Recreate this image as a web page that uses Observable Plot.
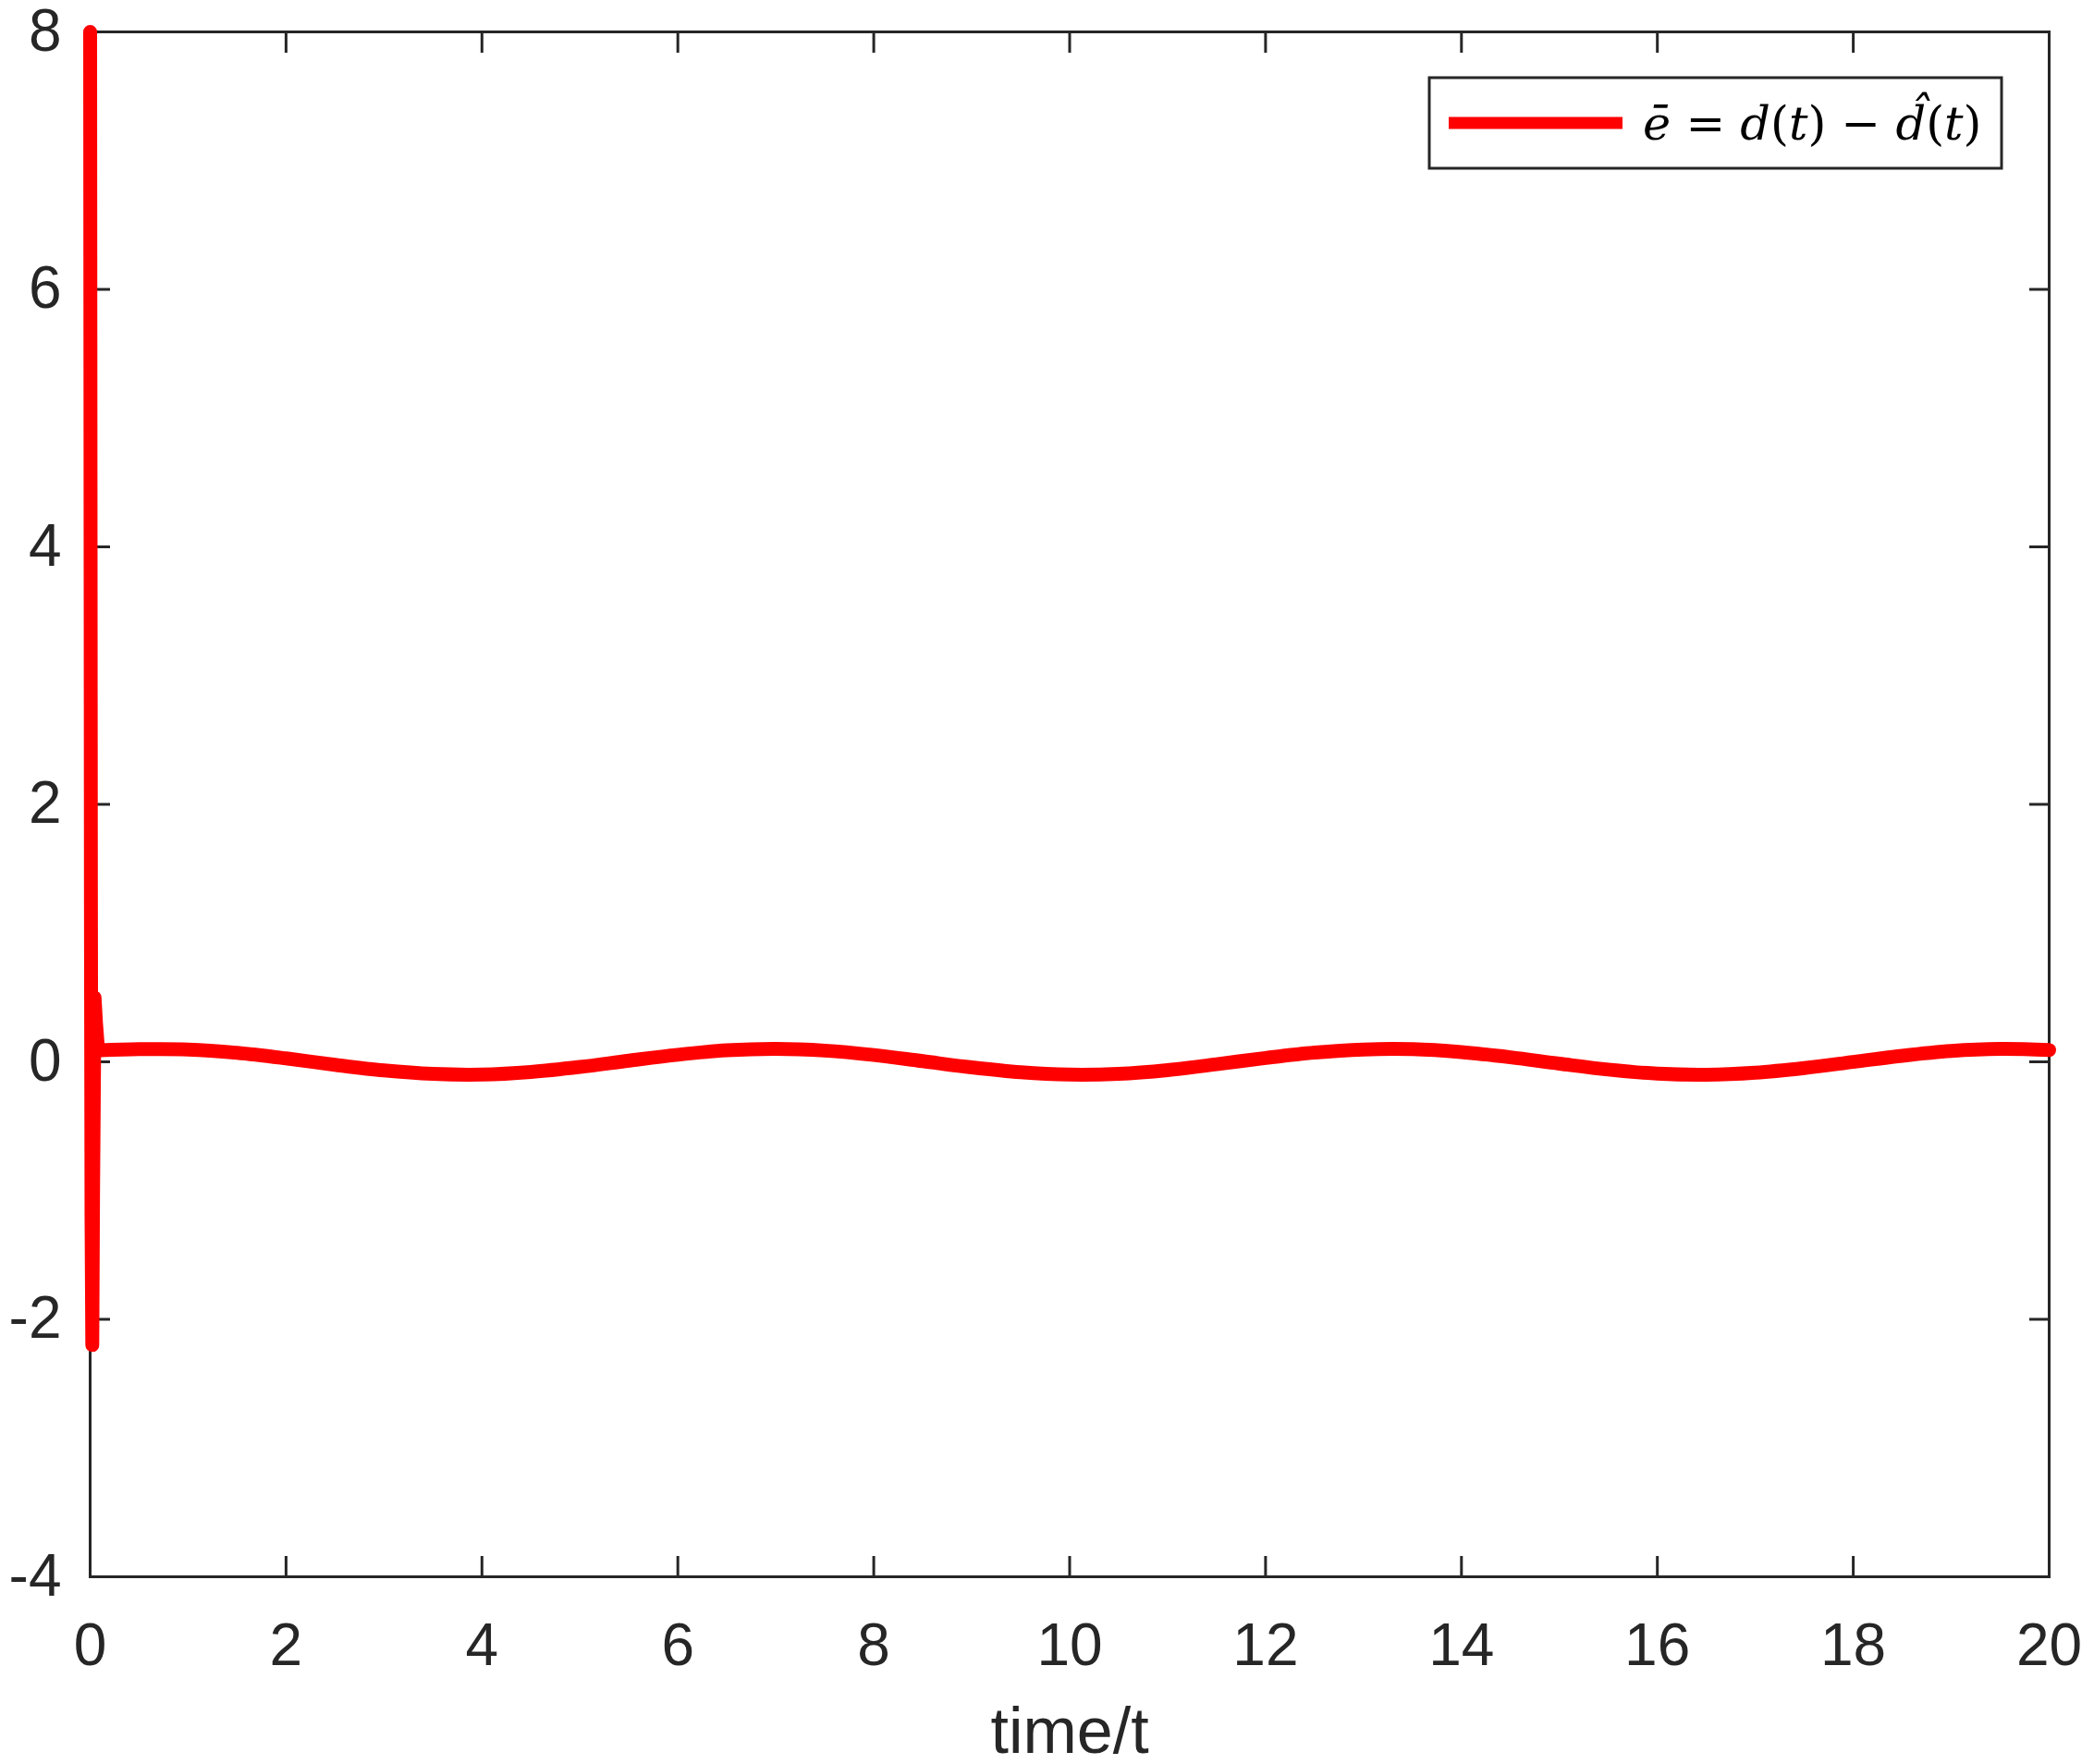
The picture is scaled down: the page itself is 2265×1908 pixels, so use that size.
<!DOCTYPE html>
<html>
<head>
<meta charset="utf-8">
<script src="https://cdn.jsdelivr.net/npm/d3@7"></script>
<script src="https://cdn.jsdelivr.net/npm/@observablehq/plot@0.6"></script>
<style>
  body { margin: 0; background: #fff; }
</style>
</head>
<body>
<div id="chart"></div>
<script>
// transitorio inicial (t, error)
const tTransient = [0, 0.004, 0.008, 0.014, 0.022, 0.03, 0.045, 0.06, 0.08, 0.1];
const eTransient = [8, 4.5, 1.2, -1.2, -2.2, -1.0, 0.5, 0.3, 0.1, 0.09];

// regimen permanente, leido cada 0.5 s
const tSteady = [0.1, 0.5, 1, 1.5, 2, 2.5, 3, 3.5, 4, 4.5, 5, 5.5, 6, 6.5, 7, 7.5, 8, 8.5, 9, 9.5, 10,
  10.5, 11, 11.5, 12, 12.5, 13, 13.5, 14, 14.5, 15, 15.5, 16, 16.5, 17, 17.5, 18, 18.5, 19, 19.5, 20];
const eSteady = [0.09, 0.098, 0.096, 0.07, 0.027, -0.023, -0.067, -0.094, -0.099, -0.079, -0.04, 0.009,
  0.055, 0.089, 0.1, 0.087, 0.053, 0.005, -0.043, -0.081, -0.099, -0.093, -0.064, -0.019, 0.03, 0.072,
  0.096, 0.098, 0.075, 0.035, -0.014, -0.06, -0.092, -0.1, -0.084, -0.048, -0.001, 0.047, 0.084, 0.1, 0.092];

const xTicks = [0, 2, 4, 6, 8, 10, 12, 14, 16, 18, 20];
const yTicks = [-4, -2, 0, 2, 4, 6, 8];
const xLabel = "time/t";

const transient = tTransient.map((t, i) => ({t, e: eTransient[i]}));
const steady = tSteady.map((t, i) => ({t, e: eSteady[i]}));

const W = 2265, H = 1908;
const mL = 97, mR = 49, mT = 34, mB = 203;
const ink = "#262626";

const chart = Plot.plot({
  width: W,
  height: H,
  marginLeft: mL,
  marginRight: mR,
  marginTop: mT,
  marginBottom: mB,
  style: {fontFamily: '"Liberation Sans", Arial, sans-serif', color: ink, background: "#fff", overflow: "visible"},
  x: {domain: [0, 20]},
  y: {domain: [-4, 8]},
  marks: [
    Plot.frame({stroke: ink, strokeWidth: 3}),
    Plot.axisX({ticks: xTicks, tickSize: -22, tickPadding: 72, strokeWidth: 3, fontSize: 64, label: null, tickFormat: d => String(d)}),
    Plot.axisX({anchor: "top", ticks: xTicks, tickSize: -22, strokeWidth: 3, label: null, tickFormat: () => ""}),
    Plot.axisY({ticks: yTicks, tickSize: -22, tickPadding: 53, strokeWidth: 3, fontSize: 64, label: null, tickFormat: d => String(d)}),
    Plot.axisY({anchor: "right", ticks: yTicks, tickSize: -22, strokeWidth: 3, label: null, tickFormat: () => ""}),
    Plot.line(transient, {x: "t", y: "e", stroke: "#ff0000", strokeWidth: 15, strokeLinejoin: "round"}),
    Plot.line(steady, {x: "t", y: "e", stroke: "#ff0000", strokeWidth: 15, curve: "catmull-rom"}),
    Plot.text([xLabel], {text: d => d, frameAnchor: "bottom", dy: 190, fontSize: 70, fill: ink})
  ]
});

// leyenda arriba a la derecha
const svg = d3.select(chart);
const boxR = W - mR - 51, boxT = mT + 50, boxW = 619, boxH = 98;
const leg = svg.append("g");
leg.append("rect")
  .attr("x", boxR - boxW).attr("y", boxT)
  .attr("width", boxW).attr("height", boxH)
  .attr("fill", "#fff").attr("stroke", ink).attr("stroke-width", 3);
leg.append("line")
  .attr("x1", boxR - boxW + 21).attr("x2", boxR - boxW + 209)
  .attr("y1", boxT + boxH / 2).attr("y2", boxT + boxH / 2)
  .attr("stroke", "#ff0000").attr("stroke-width", 13);
const txt = leg.append("text")
  .attr("x", boxR - boxW + 231).attr("y", boxT + 67)
  .attr("text-anchor", "start")
  .attr("font-family", '"DejaVu Serif", "Liberation Serif", serif')
  .attr("font-size", 51).attr("fill", "#000");
[["ē", true], [" = ", false], ["d", true], ["(", false], ["t", true], [")", false], [" − ", false],
 ["d\u0302", true], ["(", false], ["t", true], [")", false]].forEach(([s, it]) => {
  txt.append("tspan").attr("font-style", it ? "italic" : "normal").text(s);
});

d3.select("#chart").append(() => chart);
</script>
</body>
</html>
